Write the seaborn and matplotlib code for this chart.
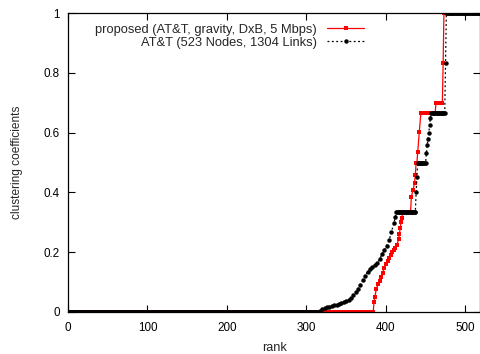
import numpy as np
import pandas as pd
import matplotlib
matplotlib.use("Agg")
import matplotlib.pyplot as plt
import seaborn as sns

# ---------------- data ----------------
series_names = ["proposed (AT&T, gravity, DxB, 5 Mbps)", "AT&T (523 Nodes, 1304 Links)"]

# flat runs: value, first rank, last rank
red_run_val = [0.0, 1/3, 0.5, 2/3, 0.7, 1.0]
red_run_first = [0, 421, 438, 444, 463, 473]
red_run_last = [384, 431, 439, 462, 471, 522]
# individual points between runs
red_pt_rank = [385, 386, 388, 390, 392, 394, 396, 398, 400, 402, 404, 406, 408, 410,
               412, 414, 416, 417, 418, 419, 420, 432, 434, 436, 437, 440, 442, 472]
red_pt_val = [0.033, 0.05, 0.078, 0.092, 0.105, 0.117, 0.132, 0.148, 0.160, 0.170,
              0.180, 0.190, 0.200, 0.207, 0.215, 0.225, 0.245, 0.262, 0.280, 0.300,
              0.315, 0.385, 0.407, 0.430, 0.458, 0.536, 0.603, 0.833]

black_run_val = [0.0, 1/3, 0.5, 2/3, 1.0]
black_run_first = [0, 413, 440, 457, 476]
black_run_last = [316, 437, 450, 474, 522]
black_pt_rank = [317, 320, 323, 326, 329, 332, 335, 338, 341, 344, 347, 350, 353, 356,
                 359, 362, 365, 368, 371, 374, 377, 380, 383, 386, 389, 392, 395, 398,
                 401, 404, 407, 410, 412, 438, 439, 451, 452, 453, 454, 455, 456, 475]
black_pt_val = [0.004, 0.010, 0.013, 0.016, 0.018, 0.020, 0.022, 0.024, 0.026, 0.029,
                0.032, 0.036, 0.041, 0.048, 0.056, 0.066, 0.078, 0.091, 0.106, 0.122,
                0.135, 0.143, 0.149, 0.156, 0.164, 0.176, 0.193, 0.207, 0.222, 0.240,
                0.268, 0.298, 0.318, 0.400, 0.450, 0.533, 0.560, 0.580, 0.600, 0.625,
                0.650, 0.833]

x_ticks = [0, 100, 200, 300, 400, 500]
y_ticks = [0, 0.2, 0.4, 0.6, 0.8, 1]
y_tick_labels = ["0", "0.2", "0.4", "0.6", "0.8", "1"]


def build(run_val, run_first, run_last, pt_rank, pt_val, name):
    ranks, vals = [], []
    for v, a, b in zip(run_val, run_first, run_last):
        r = list(range(a, b + 1))
        ranks += r
        vals += [v] * len(r)
    ranks += list(pt_rank)
    vals += list(pt_val)
    d = pd.DataFrame({"rank": ranks, "value": vals})
    d = d.sort_values("rank")
    d["series"] = name
    return d


df = pd.concat([
    build(red_run_val, red_run_first, red_run_last, red_pt_rank, red_pt_val, series_names[0]),
    build(black_run_val, black_run_first, black_run_last, black_pt_rank, black_pt_val, series_names[1]),
], ignore_index=True)

# ---------------- style ----------------
sns.set_theme(style="ticks")
plt.rcParams["font.family"] = ["Liberation Sans", "DejaVu Sans"]
plt.rcParams["font.size"] = 8

fig = plt.figure(figsize=(4.81, 3.54), dpi=100)
ax = fig.add_axes([68 / 481, 42 / 354, 412.5 / 481, 299 / 354])

sns.lineplot(data=df, x="rank", y="value", hue="series", style="series",
             hue_order=series_names, style_order=series_names,
             palette={series_names[0]: "#ff0000", series_names[1]: "#000000"},
             dashes={series_names[0]: "", series_names[1]: (1.5, 2.0)},
             markers={series_names[0]: "s", series_names[1]: "o"},
             estimator=None, sort=False, ax=ax, legend=False,
             linewidth=0.9, markersize=3.2, markeredgewidth=0)

ax.set_xlim(0, 519)
ax.set_ylim(0, 1)
ax.set_xticks(x_ticks)
ax.set_yticks(y_ticks)
ax.set_yticklabels(y_tick_labels)
ax.tick_params(direction="in", length=5, width=0.8, top=True, right=True,
               labelsize=8.4, colors="black")
ax.tick_params(axis="x", pad=7)
ax.tick_params(axis="y", pad=6)
for s in ax.spines.values():
    s.set_linewidth(0.9)
    s.set_color("black")
    s.set_visible(True)
ax.set_xlabel("rank", fontsize=9.2, labelpad=6)
ax.set_ylabel("clustering coefficients", fontsize=8.6, labelpad=15)

handles = [ax.lines[0], ax.lines[1]]
leg = ax.legend(handles, series_names, loc="upper right", markerfirst=False,
                bbox_to_anchor=(364 / 481, 1 - 23.5 / 354), bbox_transform=fig.transFigure,
                frameon=False, fontsize=9.3, handlelength=2.84, handletextpad=0.78,
                labelspacing=0.1, borderpad=0, borderaxespad=0, numpoints=1)

fig.savefig("out.png", dpi=100)
